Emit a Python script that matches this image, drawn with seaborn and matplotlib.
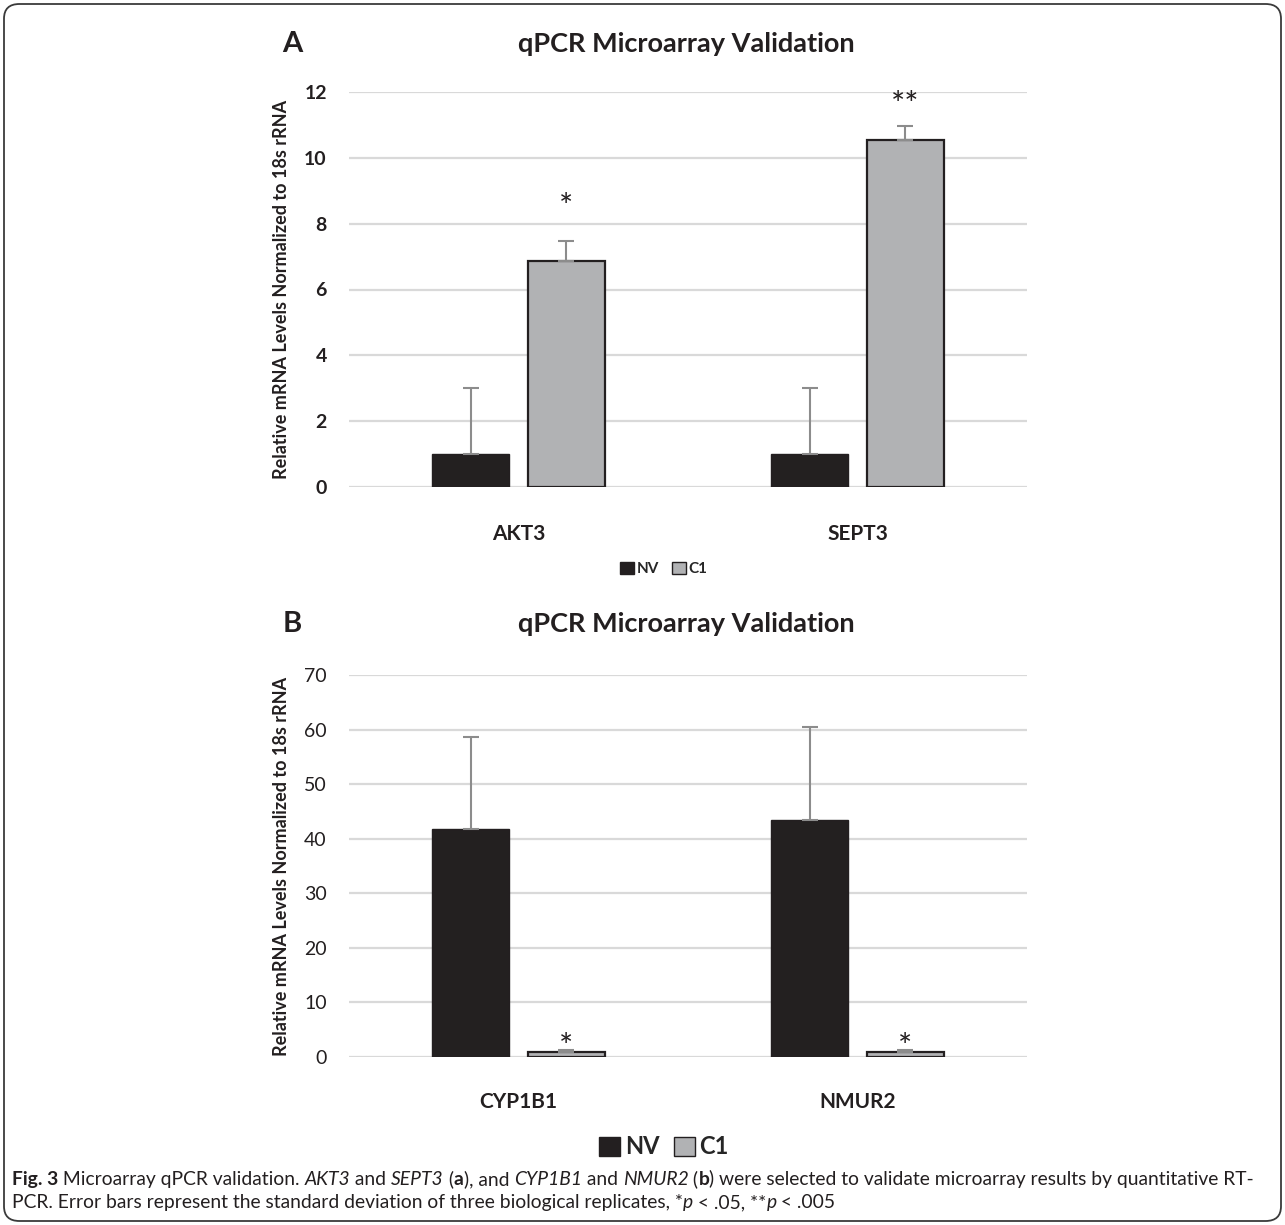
import matplotlib
matplotlib.use("Agg")
import matplotlib.pyplot as plt
from matplotlib.patches import Patch, FancyBboxPatch
import pandas as pd
import seaborn as sns

# data
groups = ["NV", "C1"]
genes_a = ["AKT3", "SEPT3"]
nv_a = [1.0, 1.0]
nv_a_sd = [2.0, 2.0]
c1_a = [6.87, 10.55]
c1_a_sd = [0.6, 0.42]
stars_a = ["*", "**"]
star_y_a = [8.8, 11.9]

genes_b = ["CYP1B1", "NMUR2"]
nv_b = [41.8, 43.4]
nv_b_sd = [16.8, 17.0]
c1_b = [1.0, 1.0]
c1_b_sd = [0.3, 0.3]
stars_b = ["*", "*"]
star_y_b = [3.7, 3.7]

ticks_a = [0, 2, 4, 6, 8, 10, 12]
ticks_b = [0, 10, 20, 30, 40, 50, 60, 70]

ylab = "Relative mRNA Levels Normalized to 18s rRNA"
title = "qPCR Microarray Validation"

NV_COL = "#231f20"
C1_COL = "#b1b2b4"
EDGE = "#231f20"
ERR_COL = "#8c8c8c"
GRID = "#d9d9d9"
TXT = "#231f20"

sns.set_theme(style="white")
plt.rcParams["font.family"] = ["Lato", "DejaVu Sans"]

W, H = 1285, 1225
fig = plt.figure(figsize=(W / 100, H / 100), dpi=100)


def px_axes(left, right, top, bottom):
    return fig.add_axes([left / W, 1 - bottom / H, (right - left) / W, (bottom - top) / H])


def panel(ax, genes, nv, nv_sd, c1, c1_sd, stars, star_y, ticks, tick_bold, lab_pad):
    df = pd.DataFrame({
        "gene": genes * 2,
        "group": [groups[0]] * len(genes) + [groups[1]] * len(genes),
        "value": nv + c1,
    })
    sns.barplot(data=df, x="gene", y="value", hue="group", hue_order=groups,
                palette=[NV_COL, C1_COL], width=0.565, gap=0.2, errorbar=None,
                legend=False, ax=ax, zorder=3)
    sds = nv_sd + c1_sd
    bars = ax.patches
    for i, p in enumerate(bars):
        if i >= len(genes):
            p.set_edgecolor(EDGE)
            p.set_linewidth(1.6)
        else:
            p.set_edgecolor(NV_COL)
        x = p.get_x() + p.get_width() / 2
        ax.errorbar([x], [p.get_height()], yerr=[[0], [sds[i]]], fmt="none", ecolor=ERR_COL,
                    elinewidth=1.5, capsize=6, capthick=1.5, zorder=4)
    # significance stars above the C1 bars
    for p, s, sy in zip(bars[len(genes):], stars, star_y):
        ax.annotate(s, xy=(p.get_x() + p.get_width() / 2, sy), xytext=(0, -8),
                    textcoords="offset points", ha="center", va="center",
                    fontsize=24, color=TXT)
    ax.set_xlim(-0.5, len(genes) - 0.5)
    ax.set_ylim(ticks[0], ticks[-1])
    ax.set_yticks(ticks)
    ax.grid(axis="y", color=GRID, linewidth=1.6, zorder=0)
    ax.set_axisbelow(True)
    for s in ax.spines.values():
        s.set_visible(False)
    ax.tick_params(axis="y", length=0, pad=16, labelsize=14, labelcolor=TXT)
    ax.tick_params(axis="x", length=0, pad=lab_pad, labelsize=15, labelcolor=TXT)
    for t in ax.get_xticklabels():
        t.set_fontweight("bold")
    if tick_bold:
        for t in ax.get_yticklabels():
            t.set_fontweight("bold")
    ax.set_xlabel("")
    ax.set_ylabel(ylab, fontsize=13, fontweight="bold", color=TXT, labelpad=10)


ax_a = px_axes(349, 1027, 92, 487)
panel(ax_a, genes_a, nv_a, nv_a_sd, c1_a, c1_a_sd, stars_a, star_y_a, ticks_a, True, 27)
ax_b = px_axes(349, 1027, 675, 1057)
panel(ax_b, genes_b, nv_b, nv_b_sd, c1_b, c1_b_sd, stars_b, star_y_b, ticks_b, False, 25)

# panel letters and titles
fig.text(292 / W, 1 - 44 / H, "A", fontsize=21, fontweight="bold", ha="center", va="center", color=TXT)
fig.text(686 / W, 1 - 44 / H, title, fontsize=19.5, fontweight="bold", ha="center", va="center", color=TXT)
fig.text(292 / W, 1 - 624 / H, "B", fontsize=21, fontweight="bold", ha="center", va="center", color=TXT)
fig.text(686 / W, 1 - 624 / H, title, fontsize=19.5, fontweight="bold", ha="center", va="center", color=TXT)

# legends
handles = [Patch(facecolor=NV_COL, edgecolor=EDGE), Patch(facecolor=C1_COL, edgecolor=EDGE)]
fig.legend(handles, groups, loc="center", bbox_to_anchor=(664 / W, 1 - 569 / H), ncol=2,
           frameon=False, prop={"weight": "bold", "size": 11}, handlelength=0.9, handleheight=0.9,
           handletextpad=0.2, columnspacing=0.8)
fig.legend(handles, groups, loc="center", bbox_to_anchor=(664 / W, 1 - 1147 / H), ncol=2,
           frameon=False, prop={"weight": "bold", "size": 17}, handlelength=0.9, handleheight=0.9,
           handletextpad=0.2, columnspacing=0.6)

# caption
cap = fig.add_axes([0, 0, 1, 1], zorder=-1)
cap.axis("off")


def rich_line(x, y, parts, size=13.9):
    prev = None
    for s, style in parts:
        kw = dict(fontsize=size, color=TXT, va="bottom", ha="left")
        if style == "b":
            kw["fontweight"] = "bold"
        elif style == "i":
            kw["fontstyle"] = "italic"
        if prev is None:
            prev = cap.text(x / W, 1 - y / H, s, transform=fig.transFigure, **kw)
        else:
            prev = cap.annotate(s, xy=(1, 0), xycoords=prev, **kw)


rich_line(12, 1188, [("Fig. 3", "b"), (" Microarray qPCR validation. ", "n"), ("AKT3", "i"), (" and ", "n"),
                     ("SEPT3", "i"), (" (", "n"), ("a", "b"), ("), and ", "n"), ("CYP1B1", "i"),
                     (" and ", "n"), ("NMUR2", "i"), (" (", "n"), ("b", "b"),
                     (") were selected to validate microarray results by quantitative RT-", "n")])
rich_line(12, 1211, [("PCR. Error bars represent the standard deviation of three biological replicates, *", "n"),
                     ("p", "i"), (" < .05, **", "n"), ("p", "i"), (" < .005", "n")])

# rounded frame around the whole figure
frame = FancyBboxPatch((4 / W, 4 / H), 1 - 8 / W, 1 - 8 / H, boxstyle="round,pad=0,rounding_size=0.012",
                       transform=fig.transFigure, facecolor="none", edgecolor="#3a3a3a", linewidth=1.3)
fig.patches.append(frame)

fig.savefig("out.png", dpi=100)
